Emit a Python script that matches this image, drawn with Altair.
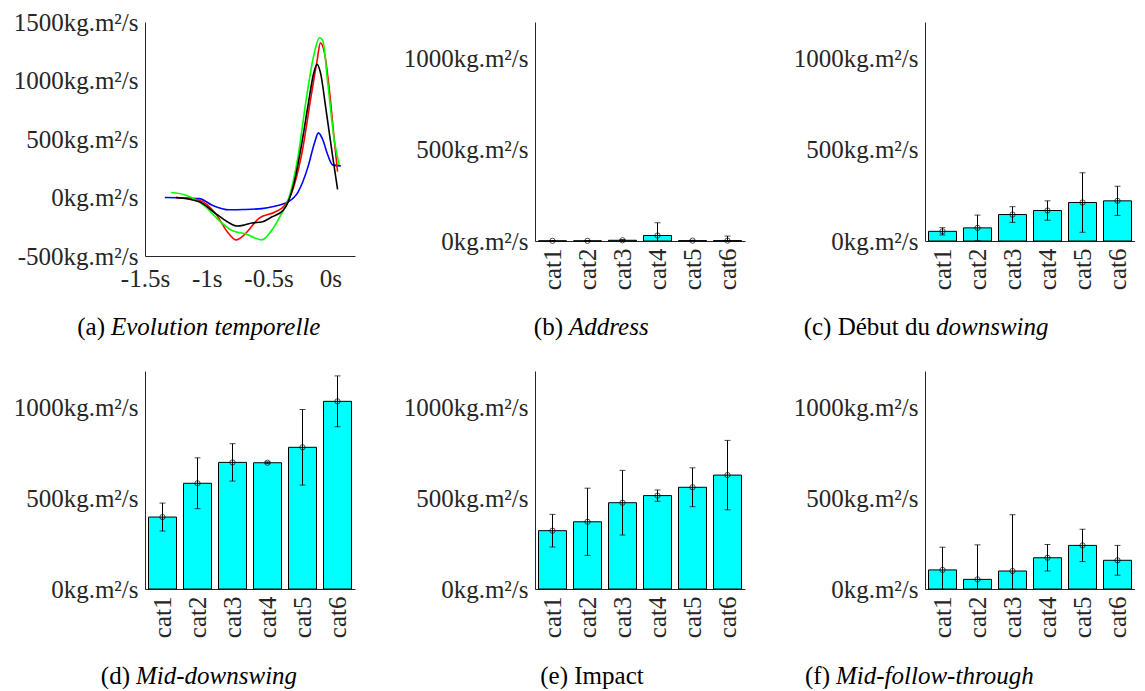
import altair as alt
import pandas as pd

FONT = "Liberation Serif"
FS = 25
INK = "#262626"

# ---------------- data ----------------
categories = ["cat1", "cat2", "cat3", "cat4", "cat5", "cat6"]

address_mean = [1, 1, 4, 30, 2, 2]
address_sd = [1, 1, 4, 70, 2, 25]
debut_mean = [53, 72, 145, 167, 211, 220]
debut_sd = [20, 70, 43, 53, 163, 80]
mid_mean = [396, 582, 697, 695, 780, 1033]
mid_sd = [77, 140, 103, 5, 208, 140]
impact_mean = [321, 370, 475, 514, 560, 627]
impact_sd = [90, 185, 178, 31, 107, 191]
follow_mean = [105, 53, 99, 172, 240, 158]
follow_sd = [125, 190, 310, 73, 89, 82]

blue_t = [-1.34, -1.2, -1.06, -0.955, -0.82, -0.70, -0.555, -0.45, -0.395, -0.34, -0.26, -0.18, -0.128, -0.096, -0.061, -0.021, 0.019, 0.085]
blue_v = [0, -2, -10, -66, -105, -103, -95, -75, -60, -37, 49, 264, 466, 552, 494, 365, 279, 270]
red_t = [-1.25, -1.06, -0.928, -0.821, -0.763, -0.688, -0.581, -0.448, -0.368, -0.315, -0.235, -0.155, -0.107, -0.08, -0.048, -0.008, 0.032, 0.059]
red_v = [0, -23, -138, -310, -362, -310, -181, -124, -66, 34, 351, 868, 1170, 1322, 1241, 925, 494, 221]
green_t = [-1.288, -1.168, -1.008, -0.901, -0.795, -0.688, -0.555, -0.475, -0.395, -0.341, -0.261, -0.195, -0.128, -0.088, -0.061, -0.021, 0.032, 0.072]
green_v = [43, 20, -80, -195, -282, -310, -362, -282, -138, -23, 351, 839, 1241, 1365, 1342, 983, 494, 279]
black_t = [-1.25, -1.06, -0.928, -0.795, -0.755, -0.695, -0.635, -0.555, -0.475, -0.381, -0.341, -0.288, -0.235, -0.181, -0.133, -0.107, -0.08, -0.035, 0.019, 0.059]
black_v = [0, -37, -138, -230, -244, -235, -218, -210, -167, -109, -37, 149, 437, 782, 1069, 1138, 1069, 753, 351, 69]

series = [("blue", blue_t, blue_v, "#0000FF"),
          ("red", red_t, red_v, "#FF0000"),
          ("green", green_t, green_v, "#00FF00"),
          ("black", black_t, black_v, "#000000")]

UNIT = "'kg.m\u00b2/s'"
CAP_Y = 304.5


def caption(roman, italic, X, center=False):
    layers = []
    if center:
        layers.append(alt.Chart(pd.DataFrame({"c": [roman]})).mark_text(
            align="center", baseline="middle", font=FONT, fontSize=FS, color="black"
        ).encode(text="c:N", x=alt.value(X), y=alt.value(CAP_Y)))
        return layers
    layers.append(alt.Chart(pd.DataFrame({"c": [roman]})).mark_text(
        align="right", baseline="middle", font=FONT, fontSize=FS, color="black"
    ).encode(text="c:N", x=alt.value(X), y=alt.value(CAP_Y)))
    layers.append(alt.Chart(pd.DataFrame({"c": [italic]})).mark_text(
        align="left", baseline="middle", font=FONT, fontSize=FS, color="black", fontStyle="italic"
    ).encode(text="c:N", x=alt.value(X + 6), y=alt.value(CAP_Y)))
    return layers


# ---------------- panel (a) ----------------
xa = alt.X("t:Q", title=None,
           scale=alt.Scale(domain=[-1.5, 0.2], nice=False, zero=False),
           axis=alt.Axis(values=[-1.5, -1, -0.5, 0], labelExpr="datum.value + 's'",
                         labelOverlap=False, labelFlush=False, labelPadding=10))
ya = alt.Y("v:Q", title=None,
           scale=alt.Scale(domain=[-500, 1500], nice=False),
           axis=alt.Axis(values=[-500, 0, 500, 1000, 1500], labelExpr="datum.value + " + UNIT,
                         labelOverlap=False, labelFlush=False))
line_layers = []
for name, t, v, col in series:
    df = pd.DataFrame({"t": t, "v": v})
    line_layers.append(alt.Chart(df).mark_line(color=col, strokeWidth=1.6, interpolate="monotone").encode(x=xa, y=ya))
panel_a = alt.layer(*line_layers, *caption("(a)", "Evolution temporelle", -40)).properties(width=210, height=234)


# ---------------- bar panels ----------------
def bar_panel(mean, sd, cap_layers, height):
    df = pd.DataFrame({"cat": categories, "mean": mean, "sd": sd})
    df["lo"] = df["mean"] - df["sd"]
    df["hi"] = df["mean"] + df["sd"]
    base = alt.Chart(df)
    x = alt.X("cat:N", sort=categories, title=None,
              scale=alt.Scale(paddingInner=0.2, paddingOuter=0.1),
              axis=alt.Axis(labelAngle=270))
    ys = alt.Scale(domain=[0, 1200], nice=False)
    y = alt.Y("mean:Q", title=None, scale=ys,
              axis=alt.Axis(values=[0, 500, 1000], labelExpr="datum.value + " + UNIT))
    bars = base.mark_bar(fill="#00FFFF", stroke="black", strokeWidth=1).encode(x=x, y=y)
    rule = base.mark_rule(color="black", strokeWidth=1, clip=True).encode(
        x=x, y=alt.Y("lo:Q", scale=ys, title=None), y2="hi:Q")
    cap_hi = base.mark_tick(orient="horizontal", size=6, thickness=1, color="black", clip=True).encode(
        x=x, y=alt.Y("hi:Q", scale=ys, title=None))
    cap_lo = base.mark_tick(orient="horizontal", size=6, thickness=1, color="black", clip=True).encode(
        x=x, y=alt.Y("lo:Q", scale=ys, title=None))
    pts = base.mark_point(shape="circle", size=28, color="black", strokeWidth=1, filled=False).encode(x=x, y=y)
    return alt.layer(bars, rule, cap_hi, cap_lo, pts, *cap_layers).properties(width=210, height=height)


panel_b = bar_panel(address_mean, address_sd, caption("(b)", "Address", 28), 219)
panel_c = bar_panel(debut_mean, debut_sd, caption("(c) Début du", "downswing", 5), 219)
panel_d = bar_panel(mid_mean, mid_sd, caption("(d)", "Mid-downswing", -15), 218)
panel_e = bar_panel(impact_mean, impact_sd, caption("(e) Impact", "", 57, center=True), 218)
panel_f = bar_panel(follow_mean, follow_sd, caption("(f)", "Mid-follow-through", -95), 218)

chart = alt.concat(
    panel_a, panel_b, panel_c, panel_d, panel_e, panel_f,
    columns=3, spacing={"row": 115, "column": 180}, bounds="flush"
).properties(
    padding={"left": 5, "top": 2, "right": 0, "bottom": 0}
).configure(
    background="white"
).configure_view(
    stroke=None
).configure_axis(
    labelFont=FONT, labelFontSize=FS, labelColor=INK,
    domainColor=INK, domainWidth=1, ticks=False, grid=False, labelPadding=7
)

chart.save("out.html", embed_options={"renderer": "svg", "actions": False})
